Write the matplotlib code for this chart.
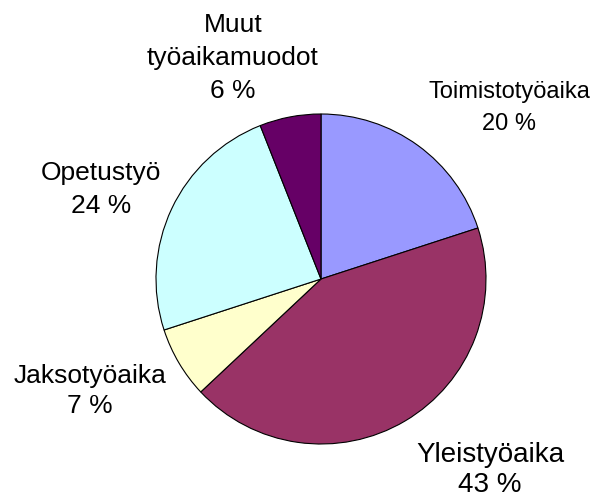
import matplotlib
matplotlib.use("Agg")
import matplotlib.pyplot as plt

labels = ["Toimistotyöaika", "Yleistyöaika", "Jaksotyöaika", "Opetustyö", "Muut\ntyöaikamuodot"]
shares = [20, 43, 7, 24, 6]
colors = ["#9999FF", "#993366", "#FFFFCC", "#CCFFFF", "#660066"]

# label anchor: x centre and baseline of first line, in pixels from top-left
label_pos = [(509, 98), (490, 462), (90, 383), (101, 180), (233, 32)]
label_size = [17, 20, 19, 19, 19]
line_step = [32, 30, 30, 33, 33]

W, H = 590, 497
cx, cy, r = 321, 279, 165

plt.rcParams["font.family"] = ["Liberation Sans", "DejaVu Sans"]

fig = plt.figure(figsize=(W / 100, H / 100), dpi=100)
ax = fig.add_axes([0, 0, 1, 1])
ax.pie(
    shares,
    colors=colors,
    startangle=90,
    counterclock=False,
    radius=1,
    wedgeprops={"edgecolor": "black", "linewidth": 0.8},
)
ax.set_xlim(-cx / r, (W - cx) / r)
ax.set_ylim(-(H - cy) / r, cy / r)
ax.set_aspect("equal")
ax.axis("off")

for lab, val, (px, py), fs, step in zip(labels, shares, label_pos, label_size, line_step):
    lines = lab.split("\n") + [f"{val} %"]
    for i, line in enumerate(lines):
        x = (px - cx) / r
        y = (cy - (py + i * step)) / r
        ax.text(x, y, line, ha="center", va="baseline", fontsize=fs)

fig.savefig("out.png", dpi=100)
